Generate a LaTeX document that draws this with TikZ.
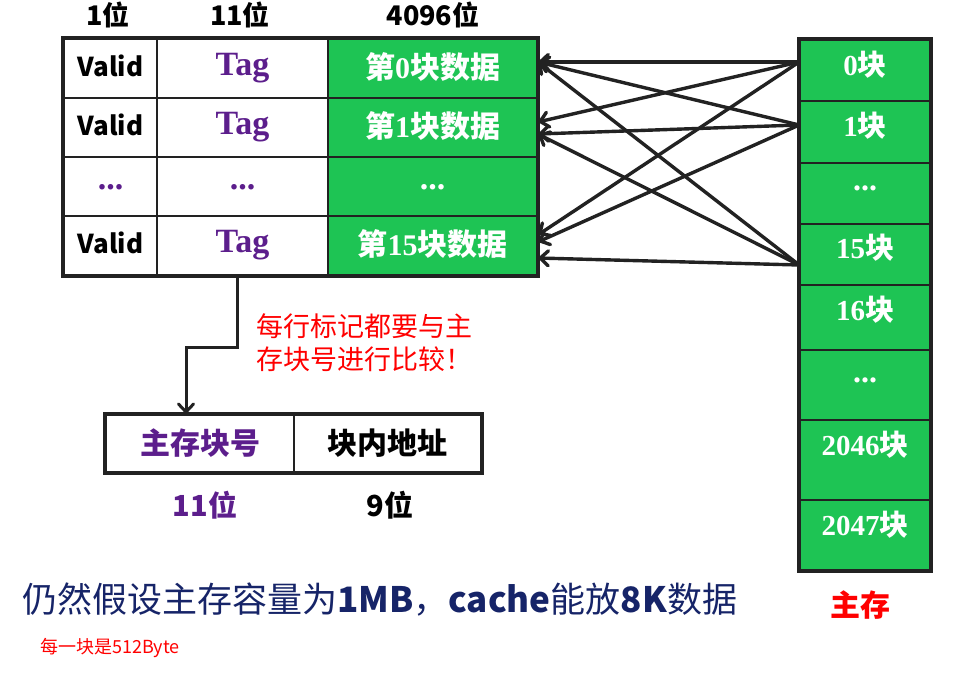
\documentclass[tikz,border=0pt]{standalone}
\usepackage{fontspec}
\setmainfont{Noto Sans CJK SC}
\newfontfamily\tnr{Liberation Serif}
\usetikzlibrary{arrows.meta}
\definecolor{cgreen}{RGB}{30,196,84}
\definecolor{cpurple}{RGB}{92,30,140}
\definecolor{cnavy}{RGB}{22,36,104}
\definecolor{cline}{RGB}{34,34,34}
\definecolor{cred}{RGB}{255,0,0}
\newcommand\sn[1]{{\tnr\bfseries #1}}
\newcommand\fs[1]{\fontsize{#1}{#1}\selectfont}
\begin{document}
\begin{tikzpicture}[x=1pt,y=-1pt,
  tcell/.style={draw=cline,line width=1.6pt,inner sep=0pt,minimum height=59pt},
  gcell/.style={tcell,fill=cgreen,text=white},
  mcell/.style={draw=cline,line width=1.6pt,fill=cgreen,inner sep=0pt,minimum width=130pt},
  hdr/.style={font=\fs{27}\bfseries},
  valid/.style={font=\fs{26}\bfseries,text depth=5pt},
  tagtxt/.style={font=\tnr\fs{34}\bfseries,text=cpurple},
  gtext/.style={font=\fs{30}\bfseries,text=white,text depth=5pt},
  mtext/.style={font=\fs{29}\bfseries,text=white,inner sep=0pt},
  frame/.style={draw=cline,line width=3.6pt},
  arr/.style={draw=cline,line width=3.4pt,line cap=round,-{Straight Barb[length=8pt,width=15pt,line cap=round]}},
]
\useasboundingbox[fill=white] (0,0) rectangle (962,680);

% headers
\node[hdr] (h1) at (108,15) {1位};
\node[hdr] (h2) at (240,15) {11位};
\node[hdr] (h3) at (433,15) {4096位};

% cache table
\node[tcell,minimum width=93pt,valid] (v0) at (110.5,68.5) {Valid};
\node[tcell,minimum width=171pt,tagtxt] (t0) at (242.5,68.5) {Tag};
\node[gcell,minimum width=209pt,gtext] (d0) at (432.5,68.5) {第\sn{0}块数据};
\node[tcell,minimum width=93pt,valid] (v1) at (110.5,127.5) {Valid};
\node[tcell,minimum width=171pt,tagtxt] (t1) at (242.5,127.5) {Tag};
\node[gcell,minimum width=209pt,gtext] (d1) at (432.5,127.5) {第\sn{1}块数据};
\node[tcell,minimum width=93pt,tagtxt,text depth=-5pt] (v2) at (110.5,186.5) {...};
\node[tcell,minimum width=171pt,tagtxt,text depth=-5pt] (t2) at (242.5,186.5) {...};
\node[gcell,minimum width=209pt,tagtxt,text=white,text depth=-5pt] (d2) at (432.5,186.5) {...};
\node[tcell,minimum width=93pt,valid] (v3) at (110.5,245.5) {Valid};
\node[tcell,minimum width=171pt,tagtxt] (t3) at (242.5,245.5) {Tag};
\node[gcell,minimum width=209pt,gtext] (d3) at (432.5,245.5) {第\sn{15}块数据};
\draw[frame] (v0.north west) rectangle (d3.south east);

% main memory column
\node[mcell,minimum height=61pt] (m0) at (865,70.5) {};
\node[mcell,minimum height=62pt] (m1) at (865,132) {};
\node[mcell,minimum height=61pt] (m2) at (865,193.5) {};
\node[mcell,minimum height=61pt] (m3) at (865,254.5) {};
\node[mcell,minimum height=65pt] (m4) at (865,317.5) {};
\node[mcell,minimum height=70pt] (m5) at (865,385) {};
\node[mcell,minimum height=80pt] (m6) at (865,460) {};
\node[mcell,minimum height=70pt] (m7) at (865,535) {};
\draw[frame] (m0.north west) rectangle (m7.south east);
\node[mtext] (mt0) at (865,65) {\sn{0}块};
\node[mtext] (mt1) at (865,126) {\sn{1}块};
\node[mtext,font=\tnr\fs{32}\bfseries] (mt2) at (865,188) {...};
\node[mtext] (mt3) at (865,248) {\sn{15}块};
\node[mtext] (mt4) at (865,310) {\sn{16}块};
\node[mtext,font=\tnr\fs{32}\bfseries] (mt5) at (865,380) {...};
\node[mtext] (mt6) at (865,445) {\sn{2046}块};
\node[mtext] (mt7) at (865,525) {\sn{2047}块};
\node[text=cred,font=\fs{30}\bfseries] (zc) at (860,605) {主存};

% arrows main memory -> cache rows
\draw[arr] ([yshift=8.5pt]m0.west) -- ([yshift=6.5pt]d0.east);
\draw[arr] ([yshift=8.5pt]m0.west) -- ([yshift=5.5pt]d1.east);
\draw[arr] ([yshift=8.5pt]m0.west) -- ([yshift=10.5pt]d3.east);
\draw[arr] ([yshift=7pt]m1.west) -- ([yshift=6.5pt]d0.east);
\draw[arr] ([yshift=7pt]m1.west) -- ([yshift=-6.5pt]d1.east);
\draw[arr] ([yshift=7pt]m1.west) -- ([yshift=3.5pt]d3.east);
\draw[arr] ([yshift=-10.5pt]m3.west) -- ([yshift=6.5pt]d0.east);
\draw[arr] ([yshift=-10.5pt]m3.west) -- ([yshift=-6.5pt]d1.east);
\draw[arr] ([yshift=-10.5pt]m3.west) -- ([yshift=-12.5pt]d3.east);

% note
\node[text=cred,font=\fontsize{27}{33}\selectfont,align=left,anchor=north west,inner sep=0pt] (note) at (256,313) {每行标记都要与主\\存块号进行比较！};

% address format
\node[tcell,minimum width=188pt,minimum height=57pt,font=\fs{30}\bfseries,text=cpurple] (a1) at (200,443.5) {主存块号};
\node[tcell,minimum width=187pt,minimum height=57pt,font=\fs{30}\bfseries] (a2) at (387.5,443.5) {块内地址};
\draw[frame] (a1.north west) rectangle (a2.south east);
\node[font=\fs{29}\bfseries,text=cpurple] (b1) at (205,505) {11位};
\node[font=\fs{29}\bfseries] (b2) at (390,505) {9位};

\draw[arr,line width=3pt,line cap=butt] ([xshift=-5.5pt]t3.south) -- ++(0,72) -| ([xshift=-14pt]a1.north);

% bottom texts
\node[anchor=west,inner sep=0pt,text=cnavy,font=\fs{35}] (bt) at (22,600) {仍然假设主存容量为\textbf{1MB}，\textbf{cache}能放\textbf{8K}数据};
\node[anchor=west,inner sep=0pt,text=cred,font=\fs{18}] (st) at (40,648) {每一块是512Byte};
\end{tikzpicture}
\end{document}
